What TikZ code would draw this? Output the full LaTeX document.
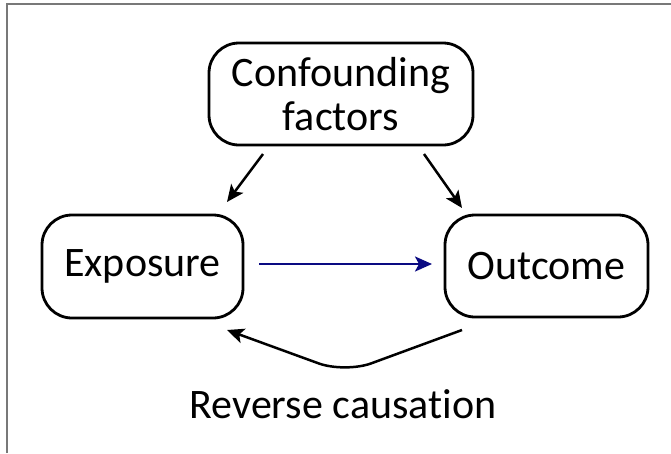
\documentclass[tikz,border=0pt]{standalone}
\usepackage{fontspec}
\setmainfont[Ligatures={NoCommon}]{Carlito}
\usetikzlibrary{arrows.meta}
\definecolor{navyline}{RGB}{10,10,130}
\definecolor{framegray}{RGB}{120,120,120}
\tikzset{
  box/.style={draw=black, line width=2.8pt, rounded corners=30pt, inner sep=0pt,
    align=center, font=\fontsize{42}{44}\selectfont},
  arr/.style={line width=2.5pt, -{Stealth[length=17pt,width=15pt,inset=4pt]}},
  lbl/.style={inner sep=0pt, font=\fontsize{42}{44}\selectfont, anchor=base},
}
\begin{document}
\begin{tikzpicture}[x=1pt,y=-1pt]
\useasboundingbox (0,0) rectangle (671,453);
\draw[framegray, line width=1.5pt] (7,453) -- (7,4) -- (671,4);
\node[box, minimum width=264pt, minimum height=102pt] (conf) at (341,94) {Confounding\\factors};
\node[box, minimum width=201pt, minimum height=103pt] (expo) at (142.5,266.5) {Exposure};
\node[box, minimum width=203pt, minimum height=102pt] (outc) at (546.5,266) {Outcome};
\coordinate (c1) at (263,154);
\coordinate (c1t) at (227,202);
\coordinate (c2) at (424,154);
\coordinate (c2t) at (462,208);
\draw[arr] (c1) -- (c1t);
\draw[arr] (c2) -- (c2t);
\coordinate (b1) at (259,264);
\coordinate (b2) at (432,264);
\draw[arr, navyline, line width=2.4pt] (b1) -- (b2);
\coordinate (r1) at (462,330);
\coordinate (rv) at (345,373);
\coordinate (r2) at (227,330);
\draw[arr, rounded corners=28pt] (r1) -- (rv) -- (r2);
\node[lbl] (rev) at (343,418) {Reverse causation};
\end{tikzpicture}
\end{document}
